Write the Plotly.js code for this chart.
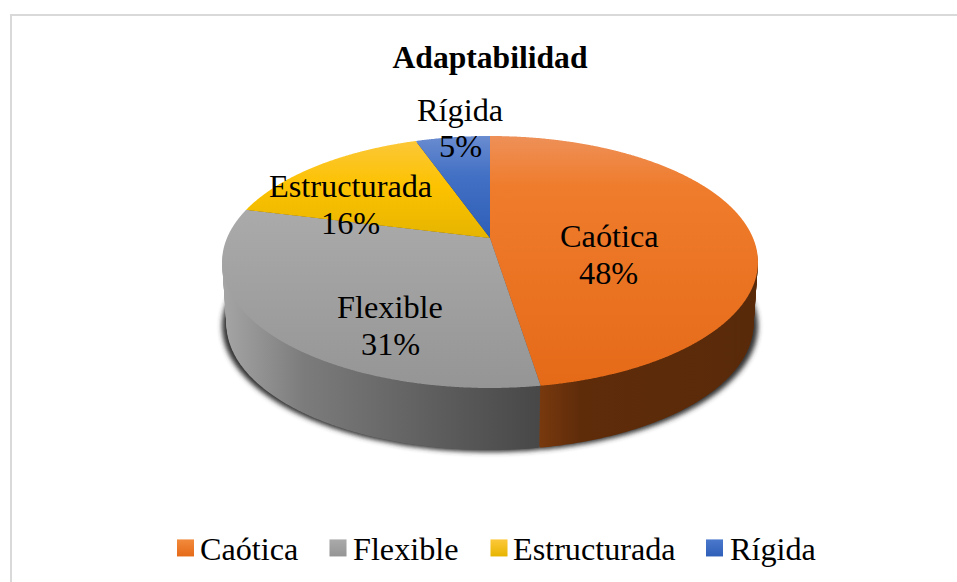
<!DOCTYPE html>
<html><head><meta charset="utf-8">
<script src="https://cdn.plot.ly/plotly-3.0.1.min.js"></script>
<style>html,body{margin:0;padding:0;background:#fff}#c{width:957px;height:582px}</style>
</head><body><div id="c"></div>
<script>
const categories = ['Caótica','Flexible','Estructurada','Rígida'];
const values = [47.5,31.4,15.7,5.4];
const chartTitle = 'Adaptabilidad';
const topColors = ['#ed7d31','#a5a5a5','#ffc000','#4472c4'];
const wallColors = ['#5e2b0a','#6e6e6e','#7f6000','#203864'];
const namePos = [[609,236],[390,307],[350,186],[460,110]];
const pctPos = [[608,273],[390,344],[350,223],[460,146]];
const legendTextX = [200,353,513,730];
const legendSwatchX = [185.5,338,499,714.5];

const W=957,H=582, DEPTH=62, STEP=2;
// projective view of the flat pie: apex, foreshortening
const AX=490, AY=238, PB=263, PA=121.4, PC=-0.1905, NARROW=0.07;
const FONT='"Liberation Serif","Times New Roman",serif';
const LABEL=32.3;
const traces=[];
const base={type:'pie',values:values,labels:categories,sort:false,direction:'clockwise',rotation:0,
  textinfo:'none',hoverinfo:'skip',showlegend:false,marker:{line:{width:0}},domain:{x:[0,1],y:[0,1]}};
traces.push(Object.assign({},base,{marker:{colors:['#333','#333','#333','#333'],line:{width:0}}}));
const nWall=Math.round(DEPTH/STEP);
for(let i=nWall;i>=1;i--) traces.push(Object.assign({},base,{marker:{colors:wallColors,line:{width:0}}}));
traces.push(Object.assign({},base,{showlegend:true,marker:{colors:topColors,line:{width:0}}}));

function note(text,p){return {xref:'paper',yref:'paper',x:p[0]/W,y:1-p[1]/H,text:text,showarrow:false,
  xanchor:'center',yanchor:'middle',font:{family:FONT,size:LABEL,color:'#000'}};}
const ann=[];
categories.forEach((c,i)=>{ann.push(note(c,namePos[i]));ann.push(note(Math.round(values[i])+'%',pctPos[i]));});

const layout={width:W,height:H,margin:{l:0,r:0,t:0,b:0},paper_bgcolor:'#fff',
  title:{text:'<b>'+chartTitle+'</b>',x:490/W,y:1-57/H,xref:'container',yref:'container',xanchor:'center',yanchor:'middle',font:{family:FONT,size:31.6,color:'#000'}},
  annotations:ann,
  legend:{orientation:'h',x:0,xanchor:'left',y:1-548/H,yanchor:'middle',bgcolor:'rgba(0,0,0,0)',font:{family:FONT,size:32.2,color:'#000'},traceorder:'normal'},
  shapes:[{type:'line',xref:'paper',yref:'paper',x0:10/W,x1:1,y0:1-15/H,y1:1-15/H,line:{color:'#d9d9d9',width:2},layer:'below'},
          {type:'line',xref:'paper',yref:'paper',x0:11/W,x1:11/W,y0:0,y1:1-14/H,line:{color:'#d9d9d9',width:2},layer:'below'}]
};

Plotly.newPlot('c',traces,layout,{displayModeBar:false,staticPlot:true}).then(gd=>{
  const svg=gd.querySelector('.main-svg');
  const NS='http://www.w3.org/2000/svg';
  const defs=svg.querySelector('defs')||svg.insertBefore(document.createElementNS(NS,'defs'),svg.firstChild);
  const cd=gd.calcdata[0][0], r=cd.r, pcx=cd.cx, pcy=cd.cy;
  function grad(id,stops,x1,y1,x2,y2,user){
    const g=document.createElementNS(NS,'linearGradient'); g.id=id;
    g.setAttribute('gradientUnits',user?'userSpaceOnUse':'objectBoundingBox');
    g.setAttribute('x1',x1);g.setAttribute('y1',y1);g.setAttribute('x2',x2);g.setAttribute('y2',y2);
    stops.forEach(s=>{const e=document.createElementNS(NS,'stop');e.setAttribute('offset',s[0]);e.setAttribute('stop-color',s[1]);g.appendChild(e);});
    defs.appendChild(g);
  }
  const tops=[[[0,'#ee9058'],[.2,'#ef7c2c'],[1,'#e56a18']],
              [[0,'#bdbdbd'],[.3,'#aaaaaa'],[1,'#959595']],
              [[0,'#fbc83e'],[.2,'#fdc200'],[.4,'#e6b500'],[1,'#d9a800']],
              [[0,'#6a8cd0'],[.16,'#4270c4'],[.4,'#2e5fb8'],[1,'#2a58a8']]];
  tops.forEach((s,i)=>{grad('top'+i,s,0,136,0,388,true);});
  const legStops=[[[0,'#f28a3c'],[1,'#e56a18']],[[0,'#aaaaaa'],[1,'#959595']],[[0,'#fdc83a'],[1,'#e6b500']],[[0,'#4a78cc'],[1,'#2e5fb8']]];
  legStops.forEach((s,i)=>grad('leg'+i,s,0,0,0,1,false));
  grad('wallGrey',[[0,'#a4a4a4'],[.25,'#7c7c7c'],[.7,'#5c5c5c'],[1,'#484848']],225,0,537,0,true);
  grad('wallOrange',[[0,'#7a3a0e'],[.2,'#5f2c0a'],[1,'#592a0a']],537,0,750,0,true);
  const f=document.createElementNS(NS,'filter');f.id='blurS';
  f.setAttribute('x','-10%');f.setAttribute('y','-10%');f.setAttribute('width','120%');f.setAttribute('height','120%');
  const b=document.createElementNS(NS,'feGaussianBlur');b.setAttribute('stdDeviation','2.5');f.appendChild(b);defs.appendChild(f);

  function project(p,off,shrink){
    const u=(p.x-pcx)/r, v=(p.y-pcy)/r, d=1+PC*v;
    return [(AX+(PB-shrink)*u/d).toFixed(1),(AY+off+PA*v/d).toFixed(1)];
  }
  const groups=[...gd.querySelectorAll('.pielayer g.trace')];
  const last=groups.length-1;
  groups.forEach((g,idx)=>{
    const off= idx===0 ? DEPTH+2 : (last-idx)*STEP;
    const shrink= idx===0 ? 0 : off*NARROW;
    if(idx===0){g.setAttribute('filter','url(#blurS)');g.setAttribute('opacity','0.85');}
    g.querySelectorAll('path.surface').forEach((p,i)=>{
      const L=p.getTotalLength(), pts=[];
      const step=(idx===last)?1:2.5;
      for(let s=0;s<L;s+=step) pts.push(project(p.getPointAtLength(s),off,shrink));
      p.setAttribute('d','M'+pts.map(q=>q.join(',')).join('L')+'Z');
      if(idx===last) p.style.fill=`url(#top${i})`;
      else if(idx>0){ if(i===0)p.style.fill='url(#wallOrange)'; if(i===1)p.style.fill='url(#wallGrey)'; }
    });
  });
  // legend entries: gradient swatches and spacing
  const leg=gd.querySelector('.legend');
  const lm=(leg.getAttribute('transform')||'').match(/translate\(([-\d.]+)/);
  const lx=lm?parseFloat(lm[1]):0;
  const sb=leg.querySelector('.scrollbox'); if(sb) sb.removeAttribute('clip-path');
  leg.querySelectorAll('.traces').forEach((t,i)=>{
    const m=(t.getAttribute('transform')||'').match(/translate\(([-\d.]+),\s*([-\d.]+)/);
    const ty=m?m[2]:0;
    const tx=legendTextX[i]-lx-40;
    t.setAttribute('transform',`translate(${tx},${ty})`);
    const p=t.querySelector('.legendpie');
    if(p){p.style.fill=`url(#leg${i})`;p.style.stroke='none';
      p.setAttribute('transform',`translate(${legendSwatchX[i]-lx-tx},0) scale(1.42,1.42)`);}
  });
});
</script></body></html>
